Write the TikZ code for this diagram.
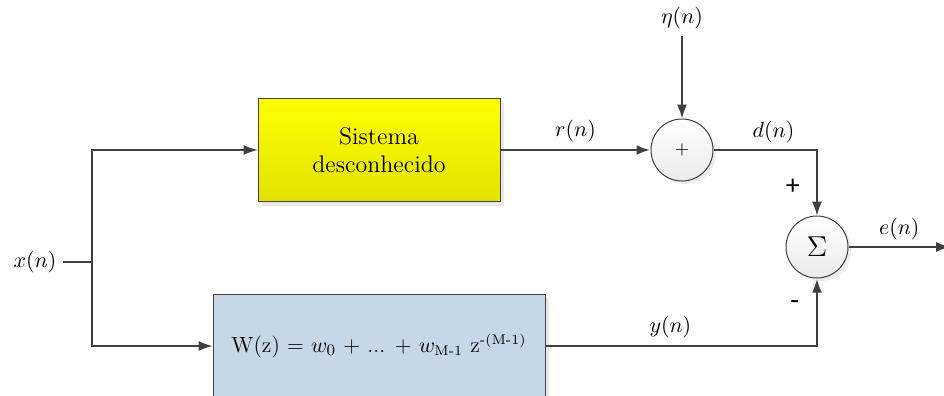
\documentclass[tikz,border=0pt]{standalone}
\usepackage{fontspec}
\newfontfamily\signfont{Carlito}
\usetikzlibrary{arrows.meta,positioning,shadows}
\definecolor{wire}{HTML}{404040}
\definecolor{sysyellow}{HTML}{FFFF00}
\definecolor{sysyellowdark}{HTML}{E2E200}
\definecolor{filtblue}{HTML}{C6D7E8}
\tikzset{
  block/.style={draw=wire, line width=0.5pt, inner sep=0pt,
    drop shadow={opacity=0.18, shadow xshift=2pt, shadow yshift=-2pt}},
  sumnode/.style={circle, draw=wire, line width=0.5pt, inner sep=0pt, minimum size=31pt,
    top color=white, bottom color=black!8,
    drop shadow={opacity=0.15, shadow xshift=1.5pt, shadow yshift=-1.5pt}},
  sig/.style={->, draw=wire, line width=0.6pt},
  bigsig/.style={->, draw=wire, line width=1.4pt},
  lbl/.style={font=\fontsize{11}{13}\selectfont},
  sign/.style={font=\signfont\fontsize{14}{16}\selectfont},
}
\begin{document}
\begin{tikzpicture}[x=0.5pt, y=-0.5pt, >={Latex[length=7pt,width=5pt]}]
    \clip (0,0) rectangle (944,396);
    \node[block, top color=sysyellow, bottom color=sysyellowdark, minimum width=121pt, minimum height=51.5pt, align=center, font=\fontsize{12}{14}\selectfont] (sys) at (379,150) {Sistema\\desconhecido};
    \node[block, fill=filtblue, minimum width=166pt, minimum height=52pt, font=\fontsize{11}{13}\selectfont] (filt) at (379,346) {W(z) = $w_{0}$ + ... + $w_{\mbox{\scriptsize M-1}}$ z$^{\mbox{\scriptsize -(M-1)}}$};
    \node[sumnode, font=\small] (add) at (682,150) {+};
    \node[sumnode, font=\Large] (err) at (817,247) {$\Sigma$};
    \node[lbl] (xin) at (35,262) {$x(n)$};
    \node[lbl] (eta) at (682,18) {$\eta(n)$};
    \coordinate (split) at (92,262);
    \coordinate (out) at (950,247);
    % entrada
    \draw[sig, -] (xin) -- (split);
    \draw[sig] (split) |- (sys.west);
    \draw[sig] (split) |- (filt.west);
    % ramo do sistema
    \draw[bigsig] (sys.east) -- node[lbl, above]{$r(n)$} (add.west);
    \draw[sig] (eta) -- (add.north);
    \draw[sig] (add.east) -| node[lbl, pos=0.29, above]{$d(n)$} node[sign, pos=0.78, left=5pt]{+} (err.north);
    % ramo do filtro
    \draw[bigsig] (filt.east) -| node[lbl, pos=0.23, above]{$y(n)$} node[sign, pos=0.8, left=5pt]{-} (err.south);
    \draw[sig] (err.east) -- node[lbl, above]{$e(n)$} (out);
\end{tikzpicture}
\end{document}
